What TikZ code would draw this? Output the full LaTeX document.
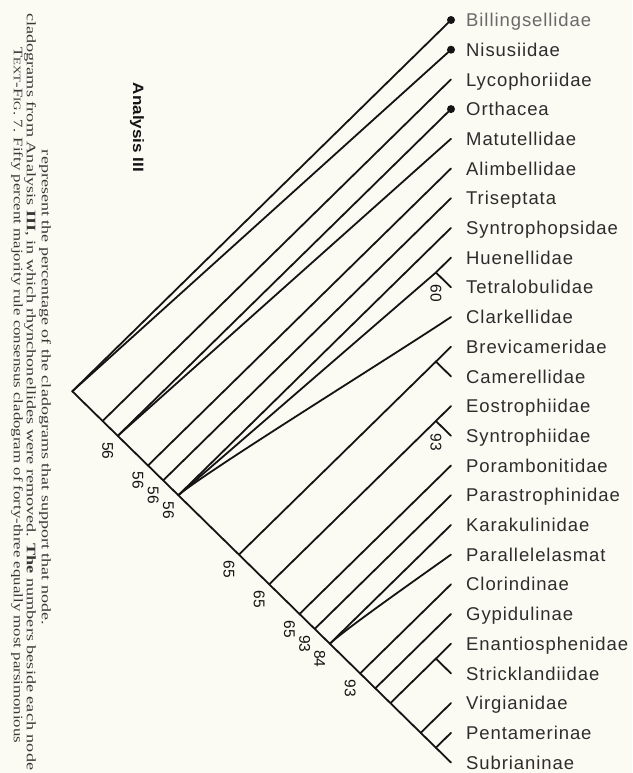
\documentclass[tikz,border=0pt]{standalone}
\usepackage{fontspec}
\setmainfont{Liberation Serif}
\newfontfamily\taxafont[LetterSpace=5]{Liberation Sans}
\newfontfamily\headfont{Liberation Sans}
\usepackage{graphicx}
\usepackage{xcolor}
\definecolor{paper}{RGB}{251,251,243}
\definecolor{ink}{RGB}{20,20,20}
\definecolor{taxtext}{RGB}{45,45,45}
\definecolor{faded}{RGB}{105,105,105}
\definecolor{captext}{RGB}{55,55,55}
\usepackage{tikz}
\usetikzlibrary{positioning}

\begin{document}
\begin{tikzpicture}[
        x=1pt, y=-1pt,
        branch/.style={line width=1.8pt, color=ink, line cap=round, line join=round},
        taxon/.style={inner sep=0pt, text height=13.3pt, text depth=0pt, font=\taxafont\fontsize{18.5}{20}\selectfont, text=taxtext},
        support/.style={rotate=-90, inner sep=0pt, font=\headfont\fontsize{15.5}{15.5}\selectfont, text=ink},
        tipdot/.style={circle, fill=ink, inner sep=0pt, minimum size=8pt},
        capline/.style={rotate=-90, inner sep=0pt, font=\fontsize{13}{14}\selectfont, text=captext}
    ]
        \fill[paper] (0,0) rectangle (632,773);
        \useasboundingbox (0,0) rectangle (632,773);

        \node[capline, anchor=west] (cap1) at (17,47) {\resizebox{696pt}{\height}{T{\fontsize{10}{10}\selectfont EXT}-F{\fontsize{10}{10}\selectfont IG}. 7. Fifty percent majority rule consensus cladogram of forty-three equally most parsimonious}};
        \node[capline, anchor=west] (cap2) at (30,13) {\resizebox{757pt}{\height}{cladograms from Analysis \textbf{III}, in which rhynchonellides were removed. \textbf{The} numbers beside each node}};
        \node[capline] (cap3) at (45,387.5) {\resizebox{475pt}{\height}{represent the percentage of the cladograms that support that node.}};
        \node[rotate=-90, inner sep=0pt, font=\headfont\bfseries\fontsize{15}{15}\selectfont, text=ink] (title) at (137,127.5) {\resizebox{89pt}{\height}{Analysis III}};

        \coordinate (billing) at (451,20);
        \coordinate (nisus) at (451,49.7);
        \coordinate (lyco) at (451,79.4);
        \coordinate (orth) at (451,109.1);
        \coordinate (matu) at (451,138.8);
        \coordinate (alimb) at (451,168.5);
        \coordinate (trisep) at (451,198.2);
        \coordinate (synops) at (451,227.9);
        \coordinate (huen) at (451,257.6);
        \coordinate (tetra) at (451,287.3);
        \coordinate (clark) at (451,317);
        \coordinate (brev) at (451,346.7);
        \coordinate (camer) at (451,376.4);
        \coordinate (eostr) at (451,406.1);
        \coordinate (syntri) at (451,435.8);
        \coordinate (poramb) at (451,465.5);
        \coordinate (parast) at (451,495.2);
        \coordinate (karak) at (451,524.9);
        \coordinate (parall) at (451,554.6);
        \coordinate (clorin) at (451,584.3);
        \coordinate (gypid) at (451,614);
        \coordinate (enant) at (451,643.7);
        \coordinate (strick) at (451,673.4);
        \coordinate (virg) at (451,703.1);
        \coordinate (pentam) at (451,732.8);
        \coordinate (subri) at (451,762.5);

        \node[taxon, right=15pt of billing, text=faded] (billingLbl) {Billingsellidae};
        \node[taxon, right=15pt of nisus] (nisusLbl) {Nisusiidae};
        \node[taxon, right=15pt of lyco] (lycoLbl) {Lycophoriidae};
        \node[taxon, right=15pt of orth] (orthLbl) {Orthacea};
        \node[taxon, right=15pt of matu] (matuLbl) {Matutellidae};
        \node[taxon, right=15pt of alimb] (alimbLbl) {Alimbellidae};
        \node[taxon, right=15pt of trisep] (trisepLbl) {Triseptata};
        \node[taxon, right=15pt of synops] (synopsLbl) {Syntrophopsidae};
        \node[taxon, right=15pt of huen] (huenLbl) {Huenellidae};
        \node[taxon, right=15pt of tetra] (tetraLbl) {Tetralobulidae};
        \node[taxon, right=15pt of clark] (clarkLbl) {Clarkellidae};
        \node[taxon, right=15pt of brev] (brevLbl) {Brevicameridae};
        \node[taxon, right=15pt of camer] (camerLbl) {Camerellidae};
        \node[taxon, right=15pt of eostr] (eostrLbl) {Eostrophiidae};
        \node[taxon, right=15pt of syntri] (syntriLbl) {Syntrophiidae};
        \node[taxon, right=15pt of poramb] (porambLbl) {Porambonitidae};
        \node[taxon, right=15pt of parast] (parastLbl) {Parastrophinidae};
        \node[taxon, right=15pt of karak] (karakLbl) {Karakulinidae};
        \node[taxon, right=15pt of parall] (parallLbl) {Parallelelasmat};
        \node[taxon, right=15pt of clorin] (clorinLbl) {Clorindinae};
        \node[taxon, right=15pt of gypid] (gypidLbl) {Gypidulinae};
        \node[taxon, right=15pt of enant] (enantLbl) {Enantiosphenidae};
        \node[taxon, right=15pt of strick] (strickLbl) {Stricklandiidae};
        \node[taxon, right=15pt of virg] (virgLbl) {Virgianidae};
        \node[taxon, right=15pt of pentam] (pentamLbl) {Pentamerinae};
        \node[taxon, right=15pt of subri] (subriLbl) {Subrianinae};

        \coordinate (root) at (72.3,391.3);
        \coordinate (c1) at (102.6,421);
        \coordinate (c2) at (117.8,435.8);
        \coordinate (c3) at (148,465.5);
        \coordinate (c4) at (163.2,480.4);
        \coordinate (c5) at (178.4,495.2);
        \coordinate (c6) at (238.9,554.6);
        \coordinate (c7) at (269.2,584.3);
        \coordinate (c8) at (299.5,614);
        \coordinate (c9) at (314.7,628.9);
        \coordinate (c10) at (329.8,643.7);
        \coordinate (c11) at (360.1,673.4);
        \coordinate (c12) at (375.3,688.3);
        \coordinate (c13) at (390.4,703.1);
        \coordinate (c14) at (420.7,732.8);
        \coordinate (c15) at (435.9,747.7);
        \coordinate (cladeHT) at (435.9,272.5);
        \coordinate (cladeBC) at (435.9,361.6);
        \coordinate (cladeES) at (435.9,421);
        \coordinate (cladeEN) at (435.9,658.6);

        \draw[branch] (root) -- (subri);
        \draw[branch] (root) -- (billing);
        \draw[branch] (root) -- (nisus);
        \draw[branch] (c1) -- (lyco);
        \draw[branch] (c2) -- (orth);
        \draw[branch] (c2) -- (matu);
        \draw[branch] (c3) -- (alimb);
        \draw[branch] (c4) -- (trisep);
        \draw[branch] (c5) -- (synops);
        \draw[branch] (c5) -- (cladeHT) -- (huen);
        \draw[branch] (cladeHT) -- (tetra);
        \draw[branch] (c5) .. controls +(25,-22) and +(-60,40) .. (clark);
        \draw[branch] (c6) -- (cladeBC) -- (brev);
        \draw[branch] (cladeBC) -- (camer);
        \draw[branch] (c7) -- (cladeES) -- (eostr);
        \draw[branch] (cladeES) -- (syntri);
        \draw[branch] (c8) -- (poramb);
        \draw[branch] (c9) -- (parast);
        \draw[branch] (c10) -- (karak);
        \draw[branch] (c10) .. controls +(15,-14) and +(-45,32) .. (parall);
        \draw[branch] (c11) -- (clorin);
        \draw[branch] (c12) -- (gypid);
        \draw[branch] (c13) -- (cladeEN) -- (enant);
        \draw[branch] (cladeEN) -- (strick);
        \draw[branch] (c14) -- (virg);
        \draw[branch] (c15) -- (pentam);

        \node[tipdot] (billingDot) at (billing) {};
        \node[tipdot] (nisusDot) at (nisus) {};
        \node[tipdot] (orthDot) at (orth) {};

        \node[support] (s2) at ([shift={(-10,15)}]c2) {56};
        \node[support] (s3) at ([shift={(-10,15)}]c3) {56};
        \node[support] (s4) at ([shift={(-10,15)}]c4) {56};
        \node[support] (s5) at ([shift={(-10,15)}]c5) {56};
        \node[support] (s6) at ([shift={(-10,15)}]c6) {65};
        \node[support] (s7) at ([shift={(-10,15)}]c7) {65};
        \node[support] (s8) at ([shift={(-10,15)}]c8) {65};
        \node[support] (s9) at ([shift={(-10,15)}]c9) {93};
        \node[support] (s10) at ([shift={(-10,15)}]c10) {84};
        \node[support] (s11) at ([shift={(-10,15)}]c11) {93};
        \node[support] (sHT) at ([shift={(0,21)}]cladeHT) {60};
        \node[support] (sES) at ([shift={(0,21)}]cladeES) {93};
    \end{tikzpicture}
\end{document}
